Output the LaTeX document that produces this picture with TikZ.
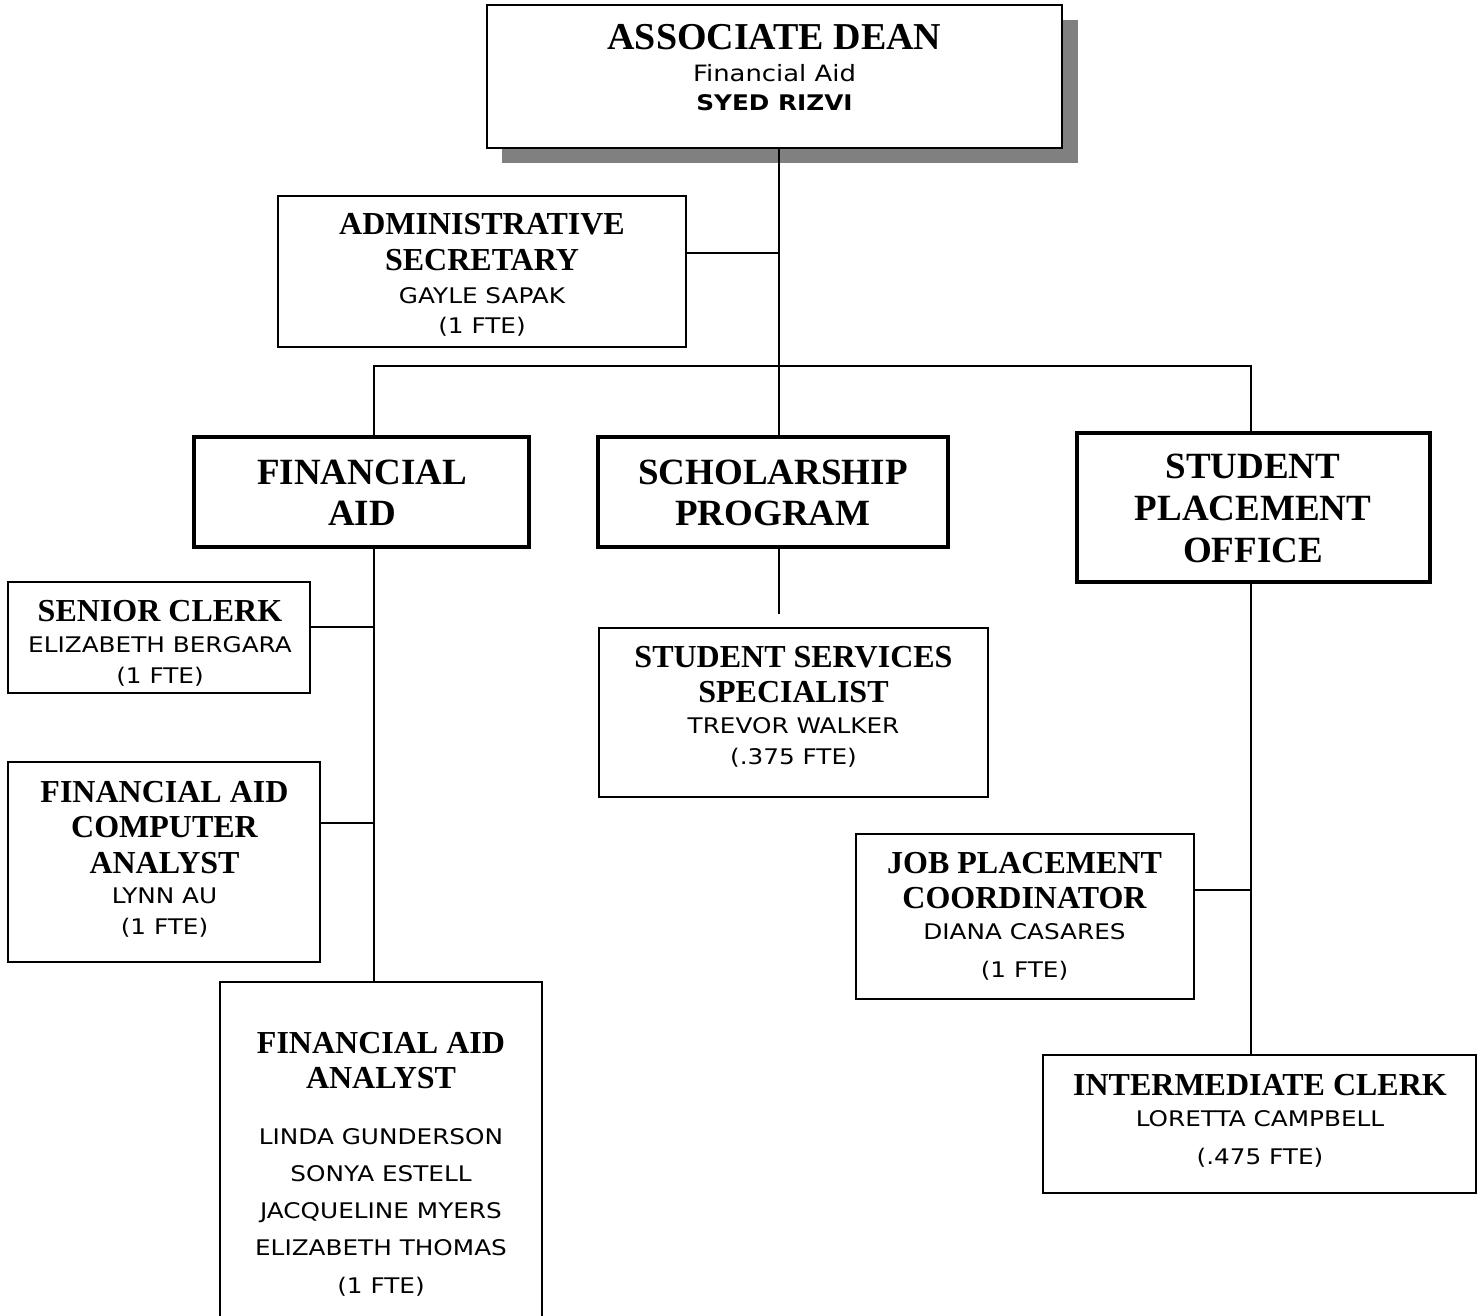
\documentclass[tikz,border=0pt]{standalone}
\usepackage{fontspec}
\setmainfont{Liberation Serif}
\newfontfamily\nmfont[FakeStretch=1.15]{DejaVu Sans}
\definecolor{shadowgray}{HTML}{808080}
\newcommand\TT{\bfseries\fontsize{32pt}{35pt}\selectfont}
\newcommand\BT{\bfseries\fontsize{37pt}{41pt}\selectfont}
\newcommand\DT{\bfseries\fontsize{38pt}{41pt}\selectfont}
\newcommand\NM{\nmfont\fontsize{21.5pt}{30pt}\selectfont}
\newcommand\NA{\nmfont\fontsize{22.5pt}{30pt}\selectfont}
\newcommand\NB{\nmfont\bfseries\fontsize{21.5pt}{30pt}\selectfont}
\tikzset{
  conn/.style={line width=2pt},
  thinbox/.style={draw, line width=2pt, rectangle, inner sep=0pt, fill=white},
  thickbox/.style={draw, line width=4pt, rectangle, inner sep=0pt, fill=white},
  ln/.style={inner sep=0pt, anchor=base},
}
\begin{document}
\begin{tikzpicture}[x=1pt,y=-1pt]
\useasboundingbox (0,0) rectangle (1484,1316);

% boxes
\node[fill=shadowgray, inner sep=0pt, minimum width=576pt, minimum height=143pt] (deanshadow) at (790,91.5) {};
\node[draw, line width=2.5pt, fill=white, inner sep=0pt, minimum width=575pt, minimum height=143pt] (dean) at (774.5,76.5) {};
\node[thinbox, minimum width=408pt, minimum height=151pt] (admin) at (482,271.5) {};
\node[thickbox, minimum width=335pt, minimum height=110pt] (fa) at (361.5,492) {};
\node[thickbox, minimum width=350pt, minimum height=110pt] (sch) at (773,492) {};
\node[thickbox, minimum width=353pt, minimum height=149pt] (spo) at (1253.5,507.5) {};
\node[thinbox, minimum width=302pt, minimum height=111pt] (sc) at (159,637.5) {};
\node[thinbox, minimum width=312pt, minimum height=200pt] (faca) at (164,862) {};
\node[inner sep=0pt, minimum width=322pt, minimum height=336pt] (faa) at (381,1150) {};
\draw[line width=2pt] (faa.south west) |- (faa.north east) -- (faa.south east);
\node[thinbox, minimum width=389pt, minimum height=169pt] (sss) at (793.5,712.5) {};
\node[thinbox, minimum width=338pt, minimum height=165pt] (jpc) at (1025,916.5) {};
\node[thinbox, minimum width=433pt, minimum height=138pt] (ic) at (1259.5,1124) {};

% connector junctions
\coordinate (jn) at (779,366);
\coordinate (faj) at (374,366);
\coordinate (spoj) at (1251,366);
\coordinate (schend) at (779,614);

\draw[conn] (dean.south -| jn) -- (sch.north -| jn);
\draw[conn] ([yshift=18.5pt]admin.east) -- ([yshift=18.5pt]admin.east -| jn);
\draw[conn] (faj |- fa.north) |- (spoj) -- (spoj |- spo.north);
\draw[conn] (sch.south -| jn) -- (schend);
\draw[conn] (faj |- fa.south) -- (faj |- faa.north);
\draw[conn] ([yshift=10.5pt]sc.east) -- ([yshift=10.5pt]sc.east -| faj);
\draw[conn] ([yshift=39pt]faca.east) -- ([yshift=39pt]faca.east -| faj);
\draw[conn] (spoj |- spo.south) -- (spoj |- ic.north);
\draw[conn] ([yshift=26.5pt]jpc.east) -- ([yshift=26.5pt]jpc.east -| spoj);

% texts
\foreach \yy/\tx [count=\i] in {50/{\DT ASSOCIATE DEAN}, 82/{\NA Financial Aid}, 111/{\NB SYED RIZVI}}
  \node[ln] (deant\i) at (774.5,\yy) {\tx};
\foreach \yy/\tx [count=\i] in {235/{\TT ADMINISTRATIVE}, 271/{\TT SECRETARY}, 304/{\NM GAYLE SAPAK}, 334/{\NM (1 FTE)}}
  \node[ln] (admint\i) at (482,\yy) {\tx};
\foreach \yy/\tx [count=\i] in {484/{\BT FINANCIAL}, 525/{\BT AID}}
  \node[ln] (fat\i) at (362,\yy) {\tx};
\foreach \yy/\tx [count=\i] in {484/{\BT SCHOLARSHIP}, 525/{\BT PROGRAM}}
  \node[ln] (scht\i) at (773,\yy) {\tx};
\foreach \yy/\tx [count=\i] in {478/{\BT STUDENT}, 520/{\BT PLACEMENT}, 562/{\BT OFFICE}}
  \node[ln] (spot\i) at (1253,\yy) {\tx};
\foreach \yy/\tx [count=\i] in {621/{\TT SENIOR CLERK}, 652/{\NM ELIZABETH BERGARA}, 683/{\NM (1 FTE)}}
  \node[ln] (sct\i) at (160,\yy) {\tx};
\foreach \yy/\tx [count=\i] in {802/{\TT FINANCIAL AID}, 837/{\TT COMPUTER}, 873/{\TT ANALYST}, 903/{\NM LYNN AU}, 934/{\NM (1 FTE)}}
  \node[ln] (facat\i) at (164.5,\yy) {\tx};
\foreach \yy/\tx [count=\i] in {667/{\TT STUDENT SERVICES}, 702/{\TT SPECIALIST}, 733/{\NM TREVOR WALKER}, 764/{\NM (.375 FTE)}}
  \node[ln] (ssst\i) at (793.5,\yy) {\tx};
\foreach \yy/\tx [count=\i] in {873/{\TT JOB PLACEMENT}, 908/{\TT COORDINATOR}, 939/{\NM DIANA CASARES}, 977/{\NM (1 FTE)}}
  \node[ln] (jpct\i) at (1024.5,\yy) {\tx};
\foreach \yy/\tx [count=\i] in {1095/{\TT INTERMEDIATE CLERK}, 1126/{\NM LORETTA CAMPBELL}, 1164/{\NM (.475 FTE)}}
  \node[ln] (ict\i) at (1260,\yy) {\tx};
\foreach \yy/\tx [count=\i] in {1053/{\TT FINANCIAL AID}, 1088/{\TT ANALYST}, 1144/{\NM LINDA GUNDERSON}, 1181/{\NM SONYA ESTELL}, 1218/{\NM JACQUELINE MYERS}, 1255/{\NM ELIZABETH THOMAS}, 1293/{\NM (1 FTE)}}
  \node[ln] (faat\i) at (381,\yy) {\tx};
\end{tikzpicture}
\end{document}
